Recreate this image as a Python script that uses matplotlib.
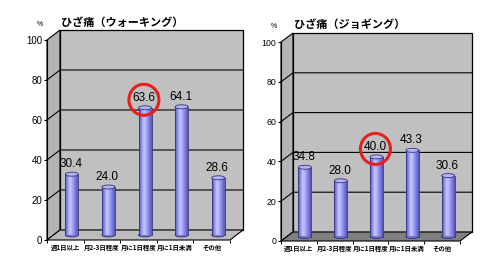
import numpy as np
import matplotlib
matplotlib.use("Agg")
import matplotlib.pyplot as plt
from matplotlib.patches import Polygon, Rectangle, Ellipse

# data
categories = ["週1日以上", "月2-3日程度", "月に1日程度", "月に1日未満", "その他"]
walking = [30.4, 24.0, 63.6, 64.1, 28.6]
jogging = [34.8, 28.0, 40.0, 43.3, 30.6]
titles = ["ひざ痛（ウォーキング）", "ひざ痛（ジョギング）"]
yticks = [0, 20, 40, 60, 80, 100]
circled = [2, 2]

JP = ["Noto Sans CJK JP", "DejaVu Sans"]
NUM = ["Liberation Sans", "DejaVu Sans"]
DPI = 100
W, H = 490, 257

WALL = "#c0c0c0"
SIDE = "#b4b4b4"
BAR_COLORS = ["#6060c0", "#8c8cec", "#b8b8ff", "#c8c8ff", "#a8a8fa",
              "#9090ee", "#7878dc", "#5c5cb8"]
EDGE = "#34347a"


def draw_panel(fig, box, depth, title, values, floor_color, circ, tick_fs):
    left, top, right, bottom = box          # pixel box of the front frame
    ax = fig.add_axes([left / W, (H - bottom) / H, (right - left) / W, (bottom - top) / H])
    n = len(values)
    x0, x1 = -0.5, n - 0.5
    ax.set_xlim(x0, x1)
    ax.set_ylim(0, 100)
    ax.set_facecolor("none")
    pxx = (right - left) / (x1 - x0)
    pxy = (bottom - top) / 100.0
    dx, dy = depth[0] / pxx, depth[1] / pxy

    # side wall, back wall, floor
    ax.add_patch(Polygon([(x0, 0), (x0, 100), (x0 + dx, 100 + dy), (x0 + dx, dy)],
                         fc=SIDE, ec="black", lw=0.8, clip_on=False, zorder=0.5))
    ax.add_patch(Rectangle((x0 + dx, dy), x1 - x0, 100, fc=WALL, ec="black", lw=0.9,
                           clip_on=False, zorder=0.5))
    for t in yticks[1:-1]:
        ax.plot([x0, x0 + dx, x1 + dx], [t, t + dy, t + dy], color="black", lw=0.8,
                clip_on=False, zorder=0.6)
    ax.add_patch(Polygon([(x0, 0), (x1, 0), (x1 + dx, dy), (x0 + dx, dy)],
                         fc=floor_color, ec="black", lw=0.8, clip_on=False, zorder=0.7))

    # cylinders
    bw = 13 / pxx
    eh = 4 / pxy
    lab_off = 10 * 0.72  # points
    grad = np.array([[matplotlib.colors.to_rgb(c) for c in BAR_COLORS]])
    for i, v in enumerate(values):
        cx = i + dx / 2
        b, t = dy / 2, v + dy / 2
        ax.add_patch(Ellipse((cx, b), bw, eh, fc="#7070d0", ec=EDGE, lw=0.6, zorder=2))
        clip = Rectangle((cx - bw / 2, b), bw, t - b, fc="none", ec="none", zorder=2)
        ax.add_patch(clip)
        im = ax.imshow(grad, extent=(cx - bw / 2, cx + bw / 2, b, t), aspect="auto",
                       interpolation="bicubic", zorder=2.1)
        im.set_clip_path(clip)
        ax.plot([cx - bw / 2, cx - bw / 2], [b, t], color=EDGE, lw=0.6, zorder=2.2)
        ax.plot([cx + bw / 2, cx + bw / 2], [b, t], color=EDGE, lw=0.6, zorder=2.2)
        ax.add_patch(Ellipse((cx, t), bw, eh, fc="#b4b4f8", ec=EDGE, lw=0.6, zorder=2.3))
        ax.annotate(f"{v:.1f}", (cx - 0.03, t), xytext=(0, lab_off), textcoords="offset points",
                    ha="center", va="center", fontsize=8.5, family=NUM, zorder=3)

    # red circle round the highlighted label
    ci = circ
    ax.add_patch(Ellipse((ci + dx / 2 - 0.03, values[ci] + dy / 2 + 8 / pxy),
                         30 / pxx, 31 / pxy, fc="none", ec="#e8201c", lw=2.2,
                         clip_on=False, zorder=4))

    ax.set_xlim(x0, x1)
    ax.set_ylim(0, 100)
    for s in ["top", "right", "bottom"]:
        ax.spines[s].set_visible(False)
    ax.spines["left"].set_linewidth(0.8)
    ax.spines["left"].set_zorder(3)
    ax.set_yticks(yticks)
    ax.set_yticklabels([str(t) for t in yticks], family=NUM, fontsize=tick_fs)
    ax.tick_params(axis="y", length=2.5, width=0.8, pad=1)
    ax.set_xticks(range(n))
    ax.set_xticklabels(categories, family=JP, fontsize=4.6, fontweight="bold")
    ax.set_xticks(np.arange(n + 1) - 0.5, minor=True)
    ax.tick_params(axis="x", which="major", length=0, pad=3)
    ax.tick_params(axis="x", which="minor", length=2.5, width=0.7)

    ax.text(-0.04, 1.08, "%", transform=ax.transAxes, ha="center", va="center",
            fontsize=5, family=NUM)
    ax.text(0.075, 1.09, title, transform=ax.transAxes, ha="left", va="center",
            fontsize=8, fontweight="bold", family=JP)
    return ax


fig = plt.figure(figsize=(W / DPI, H / DPI), dpi=DPI)
draw_panel(fig, (47, 40, 230, 240), (13, 10), titles[0], walking, "#bcbcbc", circled[0], 7)
draw_panel(fig, (281, 42, 460, 241), (12, 9), titles[1], jogging, "#808080", circled[1], 6.3)
fig.savefig("out.png", dpi=DPI)
